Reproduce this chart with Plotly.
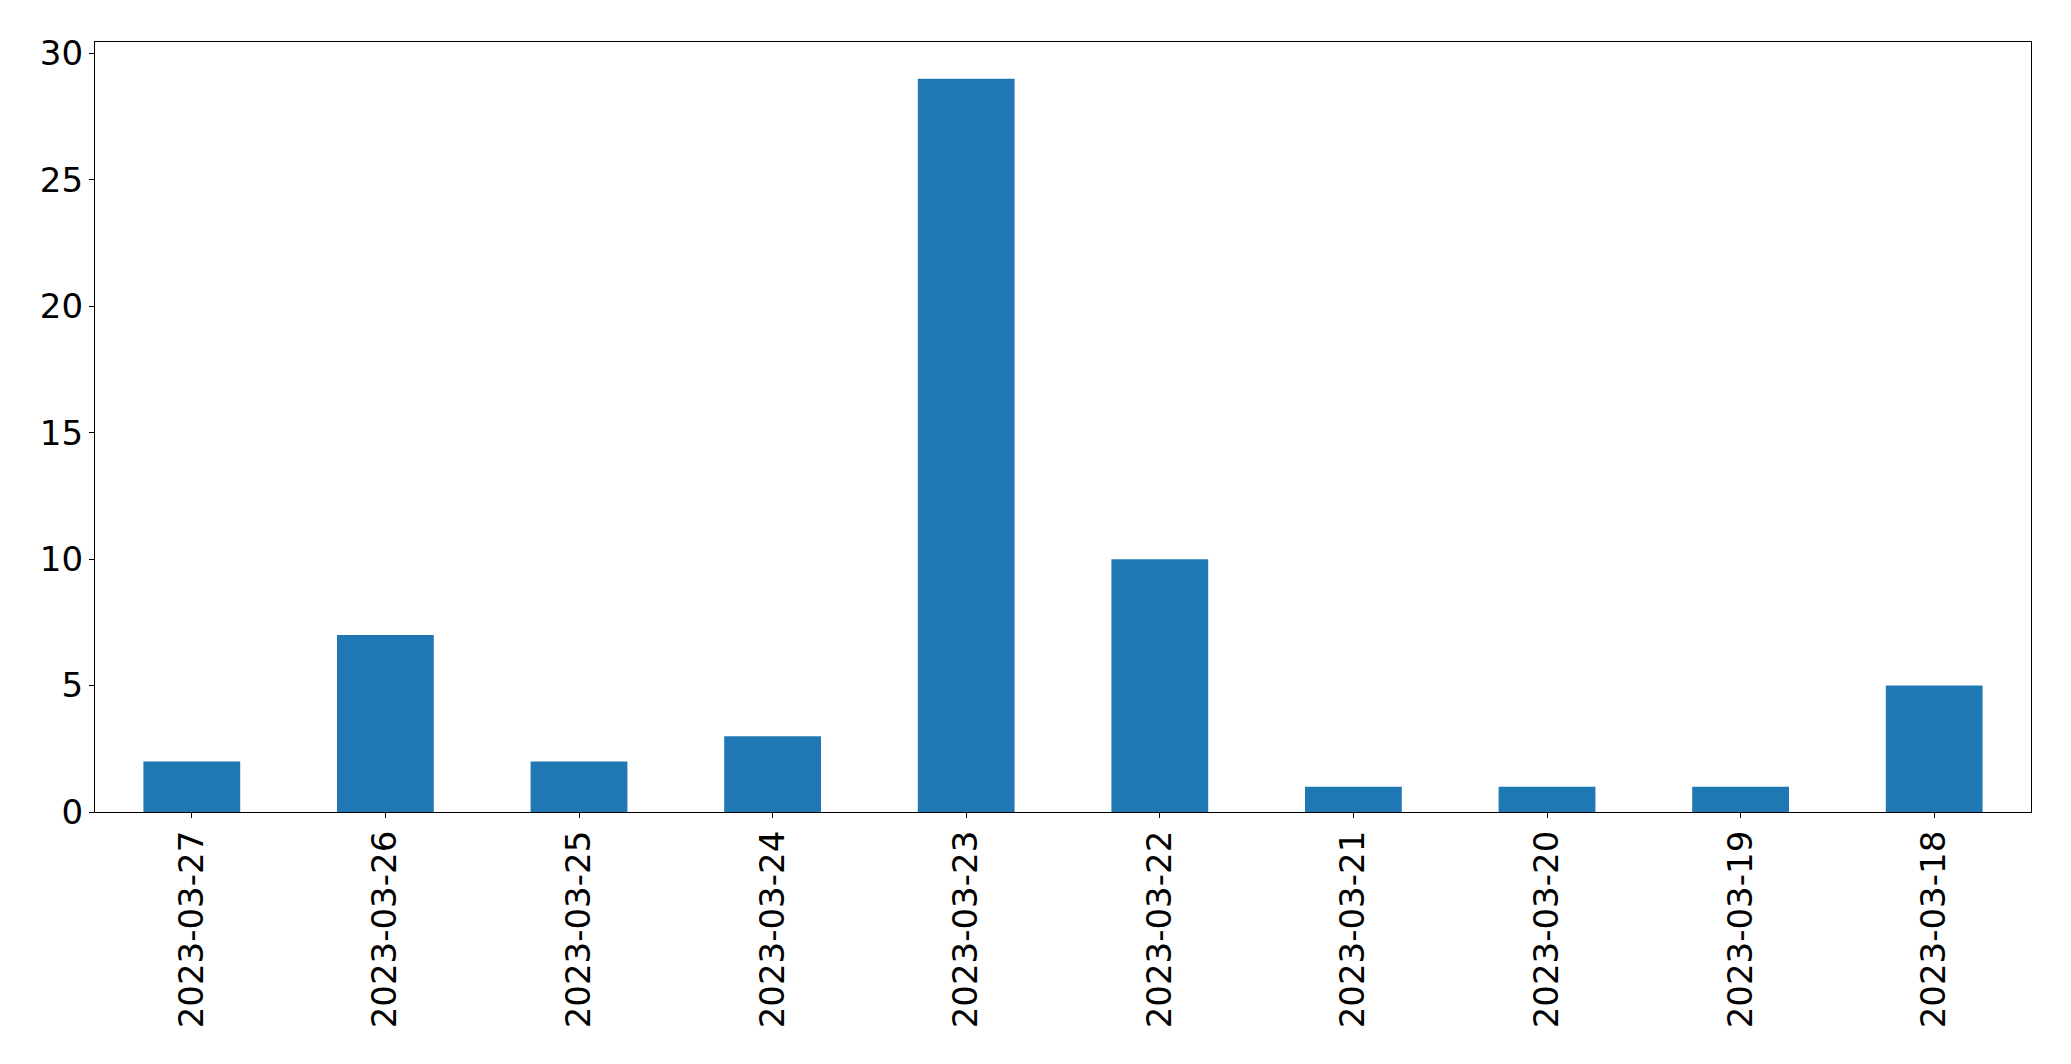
import plotly.graph_objects as go

dates = ["2023-03-27", "2023-03-26", "2023-03-25", "2023-03-24", "2023-03-23",
         "2023-03-22", "2023-03-21", "2023-03-20", "2023-03-19", "2023-03-18"]
counts = [2, 7, 2, 3, 29, 10, 1, 1, 1, 5]
y_ticks = [0, 5, 10, 15, 20, 25, 30]

fig = go.Figure(go.Bar(x=dates, y=counts, width=0.5, marker=dict(color="#1f77b4", line=dict(width=0))))

font = dict(family="DejaVu Sans", size=34, color="black")
fig.update_layout(
    width=2063, height=1056,
    margin=dict(l=86.5, r=39.5, t=34, b=251.7),
    paper_bgcolor="white", plot_bgcolor="white",
    showlegend=False,
    font=font,
)
fig.update_xaxes(
    type="category", range=[-0.5, 9.5], tickangle=-90,
    showline=True, mirror=True, linecolor="black", linewidth=1.3,
    ticks="outside", ticklen=5, tickwidth=1.3, tickcolor="black",
    showgrid=False, zeroline=False, tickfont=font, ticklabelstandoff=-1,
)
fig.update_yaxes(
    range=[0, 30.45], tickvals=y_ticks,
    showline=True, mirror=True, linecolor="black", linewidth=1.3,
    ticks="outside", ticklen=5, tickwidth=1.3, tickcolor="black",
    showgrid=False, zeroline=False, tickfont=font, ticklabelstandoff=-1,
)
fig.write_html("out.html")
